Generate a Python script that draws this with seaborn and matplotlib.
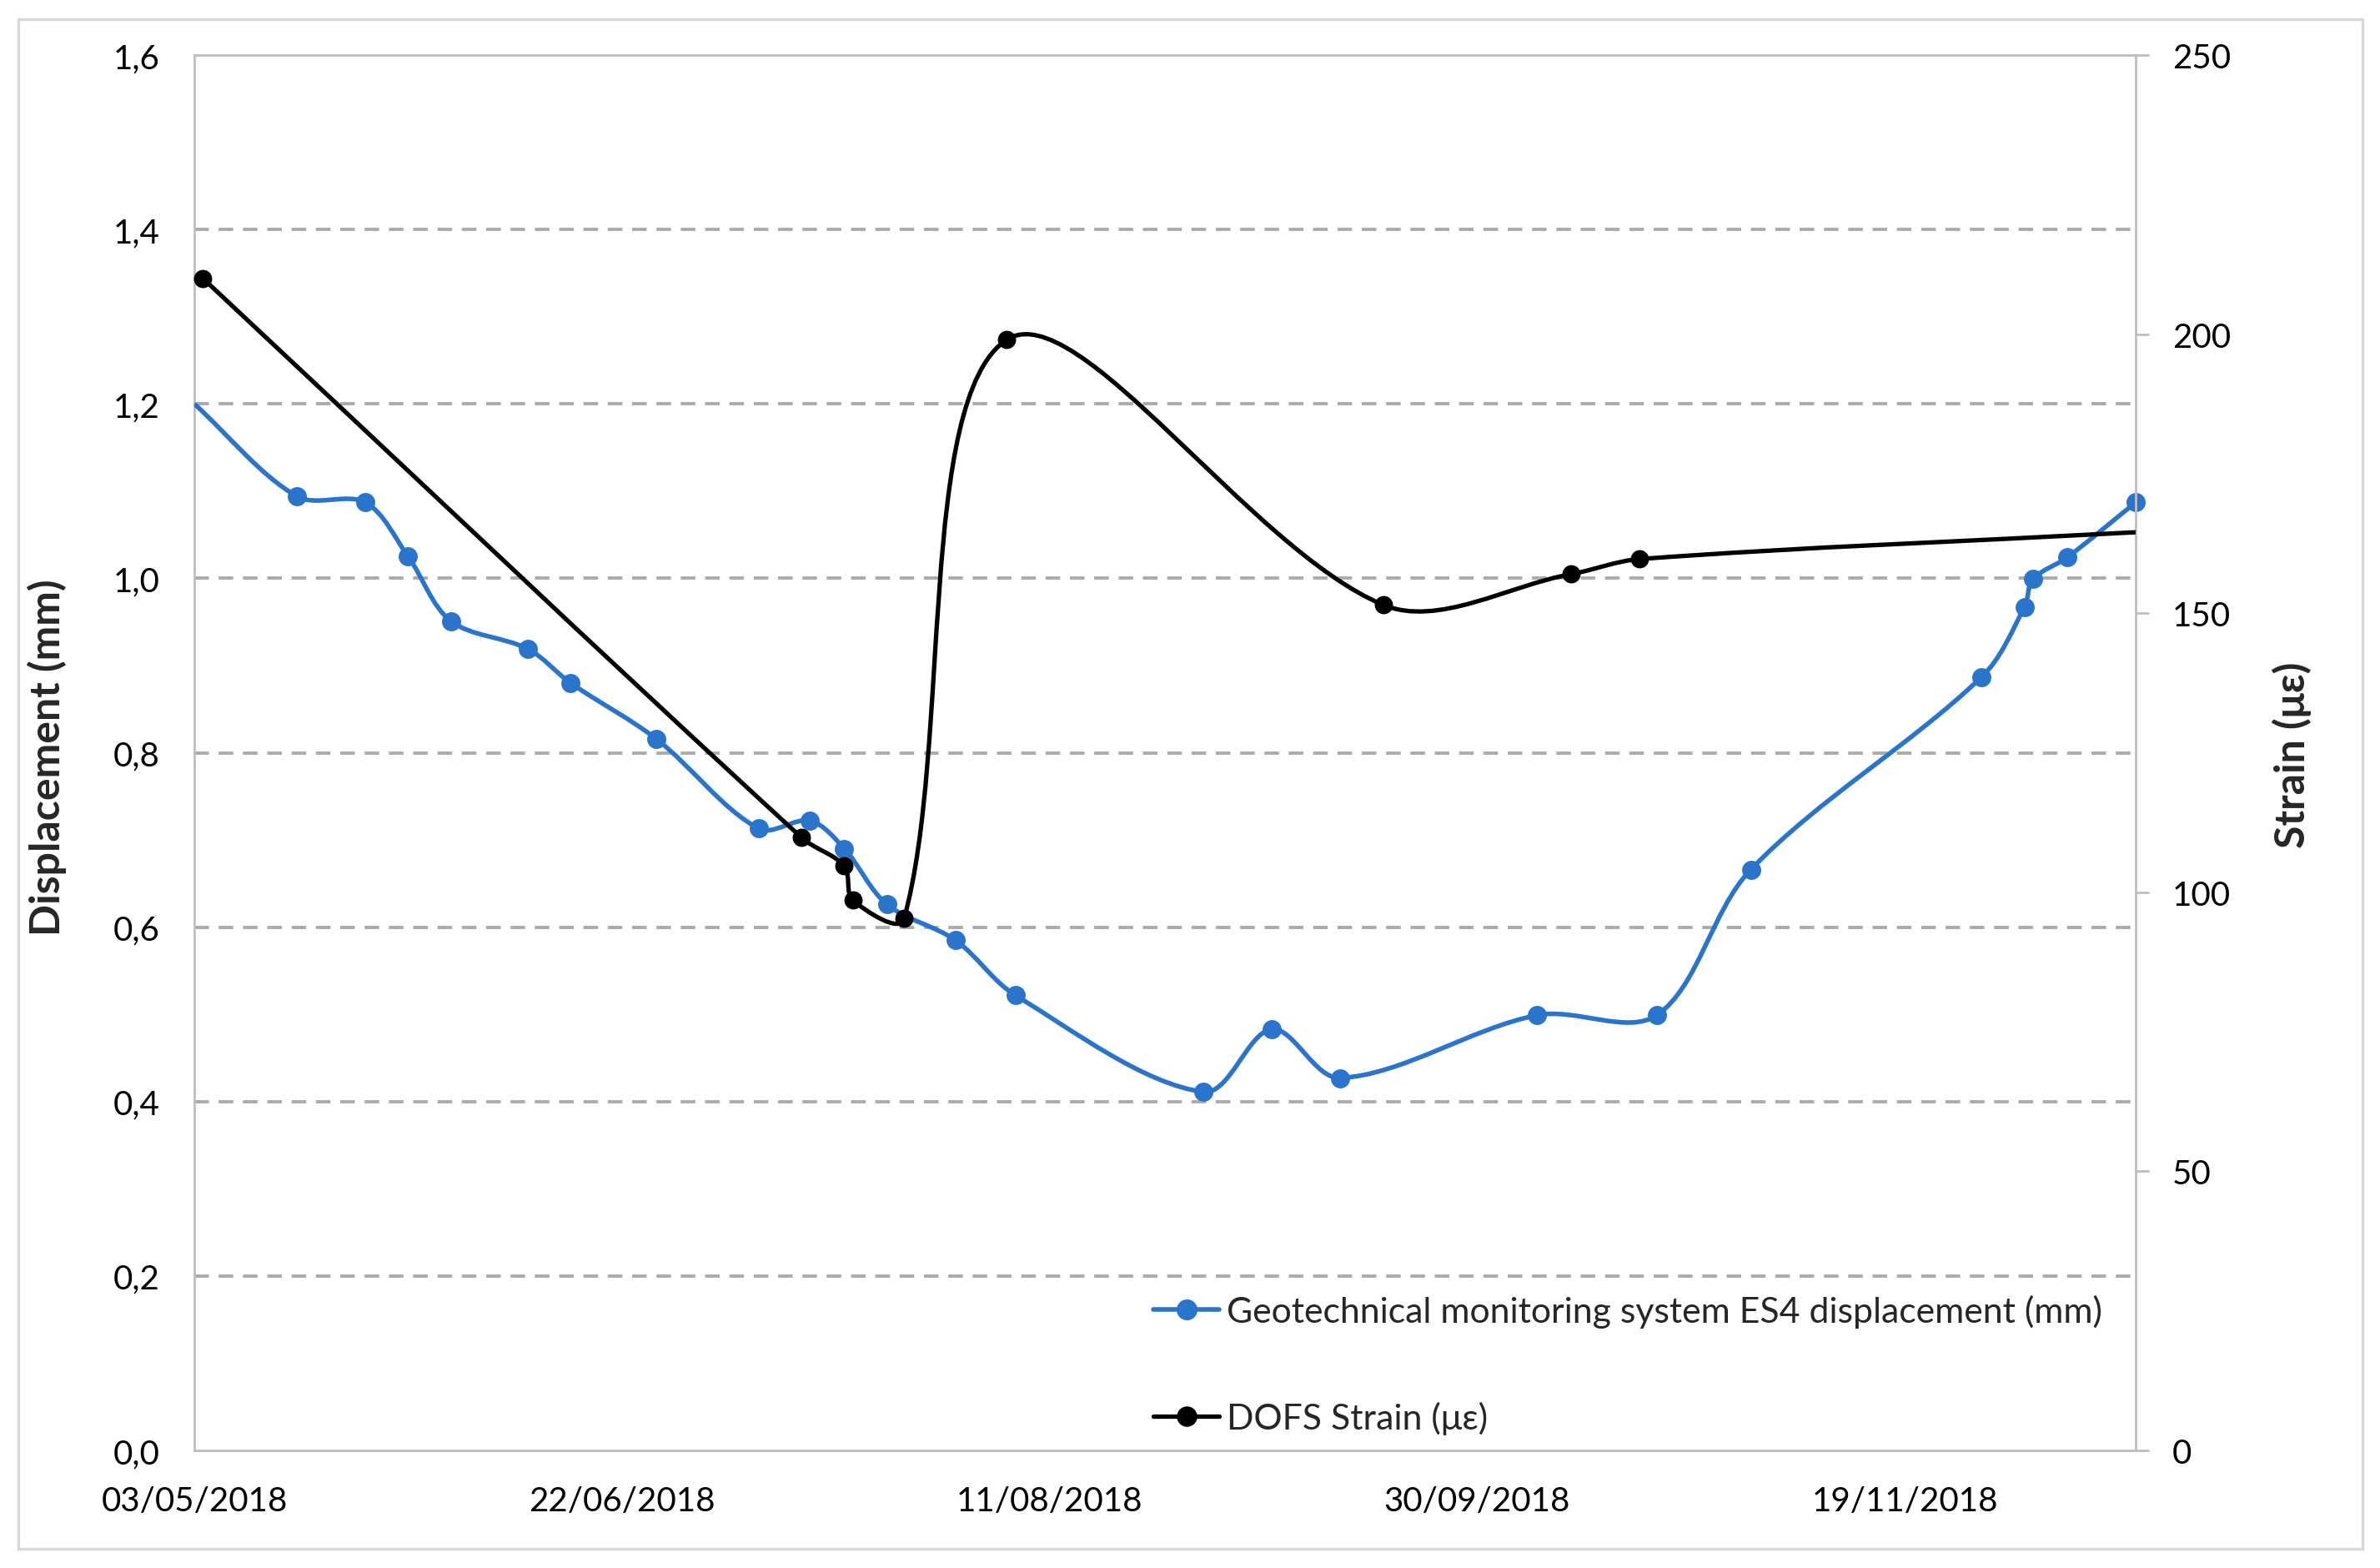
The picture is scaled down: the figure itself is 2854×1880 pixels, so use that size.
"""
Displacement (geotechnical ES4) vs DOFS strain, May-Dec 2018.
Excel-style smoothed lines on twin y axes.
"""

import numpy as np
import pandas as pd
import matplotlib
matplotlib.use("Agg")
import matplotlib.pyplot as plt
import matplotlib.dates as mdates
from matplotlib.path import Path
from matplotlib.patches import PathPatch, Rectangle
from matplotlib.lines import Line2D
from matplotlib.ticker import FuncFormatter
import seaborn as sns

# ── Data ──────────────────────────────────────────────────────────────────────

disp_dates = ["2018-05-03", "2018-05-15", "2018-05-23", "2018-05-28", "2018-06-02",
              "2018-06-11", "2018-06-16", "2018-06-26", "2018-07-08", "2018-07-14",
              "2018-07-18", "2018-07-23", "2018-07-31", "2018-08-07", "2018-08-29",
              "2018-09-06", "2018-09-14", "2018-10-07", "2018-10-21", "2018-11-01",
              "2018-11-28", "2018-12-03", "2018-12-04", "2018-12-08", "2018-12-16"]
disp_mm = [1.200, 1.094, 1.087, 1.025, 0.951,
           0.919, 0.880, 0.816, 0.713, 0.722,
           0.690, 0.626, 0.585, 0.522, 0.411,
           0.483, 0.427, 0.499, 0.499, 0.666,
           0.887, 0.967, 0.999, 1.024, 1.087]

strain_dates = ["2018-05-04", "2018-07-13", "2018-07-18", "2018-07-19", "2018-07-25",
                "2018-08-06", "2018-09-19", "2018-10-11", "2018-10-19", "2018-12-16"]
strain_ue = [210.0, 109.8, 104.7, 98.6, 95.3,
             199.0, 151.5, 157.0, 159.7, 164.5]

x_ticks = ["2018-05-03", "2018-06-22", "2018-08-11", "2018-09-30", "2018-11-19"]
x_range = ["2018-05-03", "2018-12-16"]
disp_ticks = [0.0, 0.2, 0.4, 0.6, 0.8, 1.0, 1.2, 1.4, 1.6]
strain_ticks = [0, 50, 100, 150, 200, 250]

disp_label = "Geotechnical monitoring system ES4 displacement (mm)"
strain_label = "DOFS Strain (\u03bc\u03b5)"

# ── Style ─────────────────────────────────────────────────────────────────────

BLUE = "#2B74CB"
BLACK = "#000000"
GRID = "#ABABAB"
SPINE = "#BFBFBF"
FS = 14.5

sns.set_theme(style="white")
plt.rcParams["font.family"] = ["Lato", "DejaVu Sans"]


def excel_smooth(ax, xs, ys):
    """Bezier path through the points, built like Excel's 'smoothed line'."""
    pts = ax.transData.transform(np.column_stack([xs, ys]))
    n = len(pts)
    verts, codes = [pts[0]], [Path.MOVETO]
    for i in range(n - 1):
        p0 = pts[i - 1] if i > 0 else pts[i]
        p1, p2 = pts[i], pts[i + 1]
        p3 = pts[i + 2] if i + 2 < n else pts[i + 1]
        d01 = np.hypot(*(p1 - p0))
        d12 = np.hypot(*(p2 - p1))
        d23 = np.hypot(*(p3 - p2))
        c1 = p1 + (p2 - p0) * d12 / (3 * (d01 + d12))
        c2 = p2 - (p3 - p1) * d12 / (3 * (d12 + d23))
        verts += [c1, c2, p2]
        codes += [Path.CURVE4] * 3
    verts = ax.transData.inverted().transform(np.array(verts))
    return Path(verts, codes)


# ── Figure ────────────────────────────────────────────────────────────────────

W, H = 2854, 1881
fig = plt.figure(figsize=(W / 200, H / 200), dpi=200)
ax = fig.add_axes([233 / W, 1 - 1740 / H, (2561 - 233) / W, (1740 - 67) / H])
ax2 = ax.twinx()

d_disp = pd.to_datetime(disp_dates)
d_strain = pd.to_datetime(strain_dates)

# markers (first displacement point and last strain point carry no marker)
sns.scatterplot(x=d_disp[1:], y=disp_mm[1:], ax=ax, color=BLUE, s=68,
                linewidth=0, zorder=4, clip_on=False)
sns.scatterplot(x=d_strain[:-1], y=strain_ue[:-1], ax=ax2, color=BLACK, s=62,
                linewidth=0, zorder=4, clip_on=False)

ax.set_xlim(pd.to_datetime(x_range[0]), pd.to_datetime(x_range[1]))
ax.set_ylim(0, 1.6)
ax2.set_ylim(0, 250)

ax.set_xticks(pd.to_datetime(x_ticks))
ax.xaxis.set_major_formatter(mdates.DateFormatter("%d/%m/%Y"))
ax.set_yticks(disp_ticks)
ax.yaxis.set_major_formatter(FuncFormatter(lambda v, p: f"{v:.1f}".replace(".", ",")))
ax2.set_yticks(strain_ticks)

# smoothed lines
ax.add_patch(PathPatch(excel_smooth(ax, mdates.date2num(d_disp), disp_mm),
                       fill=False, edgecolor=BLUE, lw=2.0, zorder=3))
ax2.add_patch(PathPatch(excel_smooth(ax2, mdates.date2num(d_strain), strain_ue),
                        fill=False, edgecolor=BLACK, lw=1.9, zorder=3))

# grid
ax.grid(False)
ax2.grid(False)
ax.yaxis.grid(True, color=GRID, linestyle=(0, (4.5, 3.0)), lw=1.4)
gl = ax.yaxis.get_gridlines()
gl[0].set_visible(False)
gl[-1].set_visible(False)
ax.set_axisbelow(True)

# spines / ticks
for s in ["left", "top", "bottom"]:
    ax.spines[s].set_color(SPINE)
    ax.spines[s].set_linewidth(1.0)
ax.spines["right"].set_visible(False)
for s in ["left", "top", "bottom"]:
    ax2.spines[s].set_visible(False)
ax2.spines["right"].set_color(SPINE)
ax2.spines["right"].set_linewidth(1.0)

ax.tick_params(axis="y", length=0, pad=15, labelsize=FS, labelcolor="#000000")
ax.tick_params(axis="x", length=0, pad=15, labelsize=FS, labelcolor="#000000")
ax2.tick_params(axis="y", length=5.8, width=1.0, color=SPINE, direction="out",
                pad=10, labelsize=FS, labelcolor="#000000")

ax.set_ylabel("Displacement (mm)", fontsize=18, fontweight="bold")
ax.yaxis.set_label_coords(-0.0657, 0.497)
ax2.set_ylabel("Strain (\u03bc\u03b5)", fontsize=18, fontweight="bold")
ax2.yaxis.set_label_coords(1.0705, 0.499)
ax.set_xlabel("")

# legend
handles = [Line2D([], [], color=BLUE, lw=2.0, marker="o", ms=8),
           Line2D([], [], color=BLACK, lw=1.9, marker="o", ms=7.8)]
fig.legend(handles, [disp_label, strain_label], loc="center left",
           bbox_to_anchor=(1383 / W, 1 - 1637 / H), frameon=False, fontsize=15.4,
           handlelength=1.85, handletextpad=0.2, labelspacing=2.05,
           borderpad=0, borderaxespad=0)

# outer chart border
fig.add_artist(Rectangle((22 / W, 1 - 1858 / H), (2833 - 22) / W, (1858 - 24) / H,
                         transform=fig.transFigure, fill=False,
                         edgecolor="#D9D9D9", lw=1.2))

fig.savefig("out.png", dpi=200)
